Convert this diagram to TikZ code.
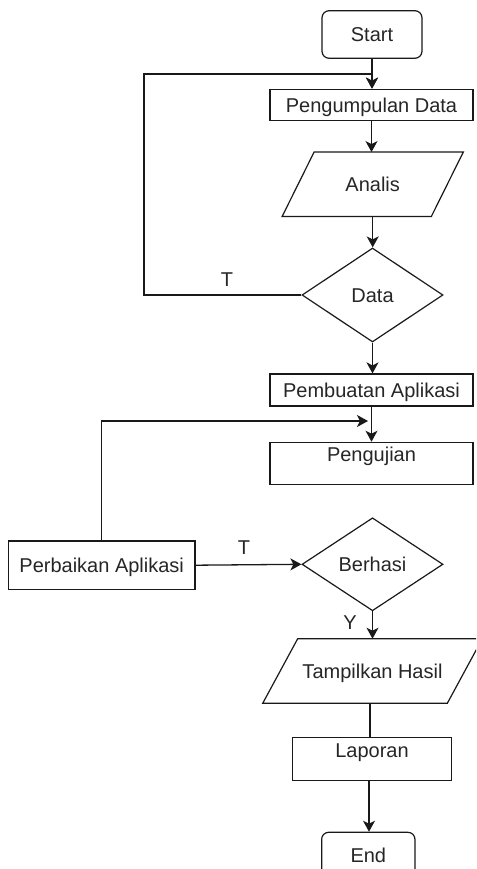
\documentclass[tikz,border=0pt]{standalone}
\usepackage{fontspec}
\setmainfont{Liberation Sans}
\usetikzlibrary{shapes.geometric,arrows.meta}
\begin{document}
\begin{tikzpicture}[x=1pt,y=-1pt,
  base/.style={draw=black!90, line width=1.2pt, inner sep=0pt, font=\fontsize{20}{24}\selectfont, text=black!85, text height=14.3pt, text depth=0pt},
  box/.style={base, rectangle},
  term/.style={base, rectangle, rounded corners=7pt},
  dec/.style={base, diamond, aspect=1.5},
  io/.style={base, draw=none, rectangle},
  arr/.style={draw=black!90, line width=1.3pt, -{Stealth[length=11pt,width=12pt,inset=3pt]}},
  ln/.style={draw=black!90, line width=1.2pt},
  lbl/.style={font=\fontsize{20}{24}\selectfont, text=black!85, inner sep=0pt}
]
\useasboundingbox (0,0) rectangle (476,869);
\clip (0,0) rectangle (476,869);

\node[term, minimum width=100pt, minimum height=47.5pt] (start) at (372,34.5) {Start};
\node[box, minimum width=203pt, minimum height=31.5pt] (pd) at (371.5,105) {Pengumpulan Data};
\node[io, minimum width=148pt, minimum height=63.3pt] (analis) at (372.7,184.3) {Analis};
\draw[ln] ([xshift=16pt]analis.north west) -- ([xshift=16pt]analis.north east) -- ([xshift=-16pt]analis.south east) -- ([xshift=-16pt]analis.south west) -- cycle;
\node[dec, minimum width=141pt, minimum height=94pt] (data) at (372.5,295) {Data};
\node[box, minimum width=203pt, minimum height=32pt] (pa) at (371.5,390) {Pembuatan Aplikasi};
\node[box, minimum width=203pt, minimum height=42pt, text depth=18pt] (peng) at (371.5,463.3) {Pengujian};
\node[dec, minimum width=141pt, minimum height=93pt] (berhasi) at (372.5,564.3) {Berhasi};
\node[box, minimum width=186.7pt, minimum height=48.3pt] (perb) at (101.7,565.2) {Perbaikan Aplikasi};
\node[io, minimum width=183.4pt, minimum height=63.4pt] (tamp) at (372.5,671) {Tampilkan Hasil};
\draw[ln] ([xshift=17.5pt]tamp.north west) -- ([xshift=17.5pt]tamp.north east) -- ([xshift=-17.5pt]tamp.south east) -- ([xshift=-17.5pt]tamp.south west) -- cycle;
\node[box, minimum width=159.4pt, minimum height=43.4pt, text depth=18pt] (lap) at (372,759) {Laporan};
\node[term, minimum width=93.3pt, minimum height=47pt] (end) at (368.3,855.8) {End};

\coordinate (fbL) at (144,295);
\coordinate (fbT) at (372,74);
\coordinate (fb2) at (368,421);

\draw[arr] (start.south) -- (start.south |- pd.north);
\draw[arr] (data.west) -- (fbL) |- (fbT) -- (fbT |- pd.north);
\node[lbl] (t1) at (227,280) {T};
\draw[arr] (pd.south) -- (pd.south |- analis.north);
\draw[arr] (analis.south) -- (analis.south |- data.north);
\draw[arr] (data.south) -- (data.south |- pa.north);
\draw[arr] (pa.south) -- (pa.south |- peng.north);
\draw[arr] (perb.north) |- (fb2);
\draw[arr] (perb.east) -- (berhasi.west);
\node[lbl] (t2) at (244,548) {T};
\draw[arr] (berhasi.south) -- (berhasi.south |- tamp.north);
\node[lbl] (y1) at (350,623) {Y};
\draw[ln] (370,702.7) -- (lap.north -| 370,0);
\draw[arr] (lap.south -| 369,0) -- (end.north -| 369,0);
\end{tikzpicture}
\end{document}
